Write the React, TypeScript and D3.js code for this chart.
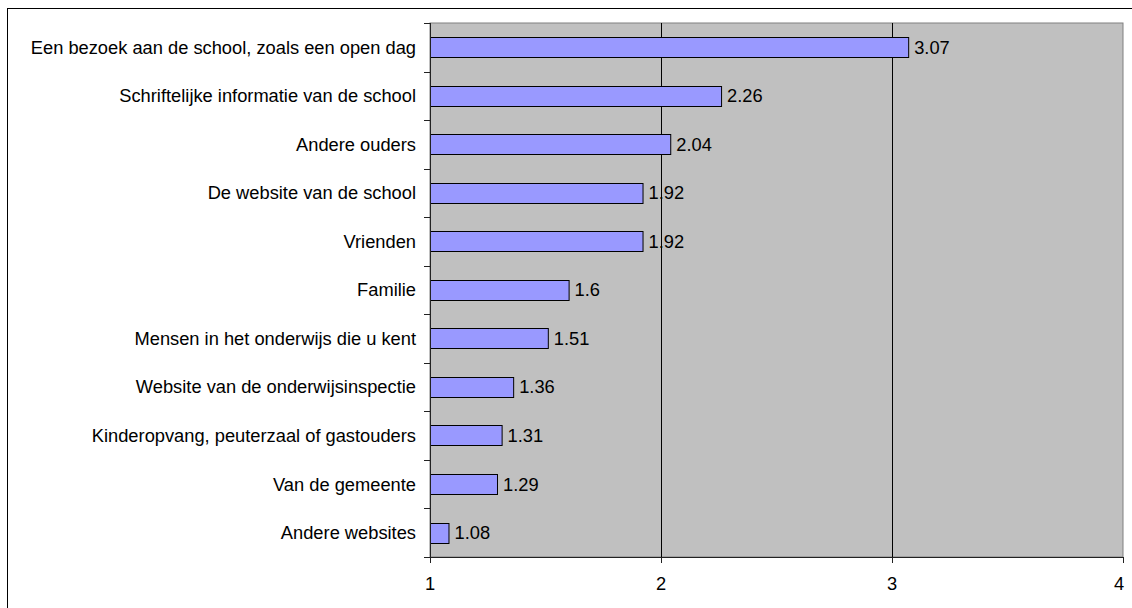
import React, {useEffect, useRef} from 'react'
import * as d3 from 'd3'

const categories = [
  'Een bezoek aan de school, zoals een open dag',
  'Schriftelijke informatie van de school',
  'Andere ouders',
  'De website van de school',
  'Vrienden',
  'Familie',
  'Mensen in het onderwijs die u kent',
  'Website van de onderwijsinspectie',
  'Kinderopvang, peuterzaal of gastouders',
  'Van de gemeente',
  'Andere websites'
]
const values = [3.07, 2.26, 2.04, 1.92, 1.92, 1.6, 1.51, 1.36, 1.31, 1.29, 1.08]
const tickValues = [1, 2, 3, 4]

const W = 1132
const H = 608
const plot = {left: 430, right: 1123, top: 23, bottom: 557}
const fontSize = 18.3
const font = 'Arial, "Liberation Sans", sans-serif'

export default function App() {
  const ref = useRef<SVGSVGElement | null>(null)

  useEffect(() => {
    const svg = d3.select(ref.current)
    svg.selectAll('*').remove()

    const x = d3.scaleLinear().domain([1, 4]).range([plot.left, plot.right])
    const y = d3.scaleBand<string>()
      .domain(categories)
      .range([plot.top, plot.bottom])
      .paddingInner(0.58)
      .paddingOuter(0.29)
    const step = y.step()

    svg.append('rect')
      .attr('width', W).attr('height', H).attr('fill', 'white')

    // outer chart border
    svg.append('rect')
      .attr('x', 7.5).attr('y', 8.5)
      .attr('width', W + 10).attr('height', H + 10)
      .attr('fill', 'none').attr('stroke', 'black').attr('stroke-width', 1)

    // plot area
    svg.append('rect')
      .attr('x', plot.left).attr('y', plot.top)
      .attr('width', plot.right - plot.left).attr('height', plot.bottom - plot.top)
      .attr('fill', '#c0c0c0').attr('stroke', '#808080').attr('stroke-width', 1)

    // gridlines
    svg.append('g').selectAll('line')
      .data(tickValues.slice(1, -1))
      .enter().append('line')
      .attr('x1', d => Math.round(x(d)) + 0.5).attr('x2', d => Math.round(x(d)) + 0.5)
      .attr('y1', plot.top).attr('y2', plot.bottom)
      .attr('stroke', 'black')

    // bars
    svg.append('g').selectAll('rect')
      .data(values)
      .enter().append('rect')
      .attr('x', x(1) + 0.5)
      .attr('y', (d, i) => Math.round(y(categories[i])!) + 0.5)
      .attr('width', d => x(d) - x(1))
      .attr('height', Math.round(y.bandwidth()))
      .attr('fill', '#9999ff')
      .attr('stroke', 'black')
      .attr('stroke-width', 1)

    // value labels
    svg.append('g').selectAll('text')
      .data(values)
      .enter().append('text')
      .attr('x', d => x(d) + 6)
      .attr('y', (d, i) => y(categories[i])! + y.bandwidth() / 2)
      .attr('dy', '0.35em')
      .attr('font-family', font)
      .attr('font-size', fontSize)
      .attr('fill', 'black')
      .text(d => String(d))

    // y axis
    const ax = svg.append('g')
    ax.append('line')
      .attr('x1', plot.left + 0.5).attr('x2', plot.left + 0.5)
      .attr('y1', plot.top).attr('y2', plot.bottom + 6)
      .attr('stroke', '#222')
    const yTicks = d3.range(categories.length + 1).map(i => plot.top + i * step)
    ax.selectAll('line.tick')
      .data(yTicks)
      .enter().append('line')
      .attr('class', 'tick')
      .attr('x1', plot.left - 6).attr('x2', plot.left)
      .attr('y1', d => Math.round(d) + 0.5).attr('y2', d => Math.round(d) + 0.5)
      .attr('stroke', '#222')
    ax.selectAll('text')
      .data(categories)
      .enter().append('text')
      .attr('x', plot.left - 14)
      .attr('y', d => y(d)! + y.bandwidth() / 2)
      .attr('dy', '0.35em')
      .attr('text-anchor', 'end')
      .attr('font-family', font)
      .attr('font-size', fontSize)
      .attr('fill', 'black')
      .text(d => d)

    // x axis
    const bx = svg.append('g')
    bx.append('line')
      .attr('x1', plot.left - 6).attr('x2', plot.right)
      .attr('y1', plot.bottom + 0.5).attr('y2', plot.bottom + 0.5)
      .attr('stroke', '#222')
    bx.selectAll('line.tick')
      .data(tickValues)
      .enter().append('line')
      .attr('class', 'tick')
      .attr('x1', d => Math.round(x(d)) + 0.5).attr('x2', d => Math.round(x(d)) + 0.5)
      .attr('y1', plot.bottom).attr('y2', plot.bottom + 6)
      .attr('stroke', '#222')
    bx.selectAll('text')
      .data(tickValues)
      .enter().append('text')
      .attr('x', d => x(d) - (d === 4 ? 4 : 0))
      .attr('y', plot.bottom + 27)
      .attr('dy', '0.35em')
      .attr('text-anchor', 'middle')
      .attr('font-family', font)
      .attr('font-size', fontSize)
      .attr('fill', 'black')
      .text(d => String(d))
  }, [])

  return (
    <svg
      ref={ref}
      width={W}
      height={H}
      style={{position: 'absolute', left: 0, top: 0, display: 'block'}}
    />
  )
}
